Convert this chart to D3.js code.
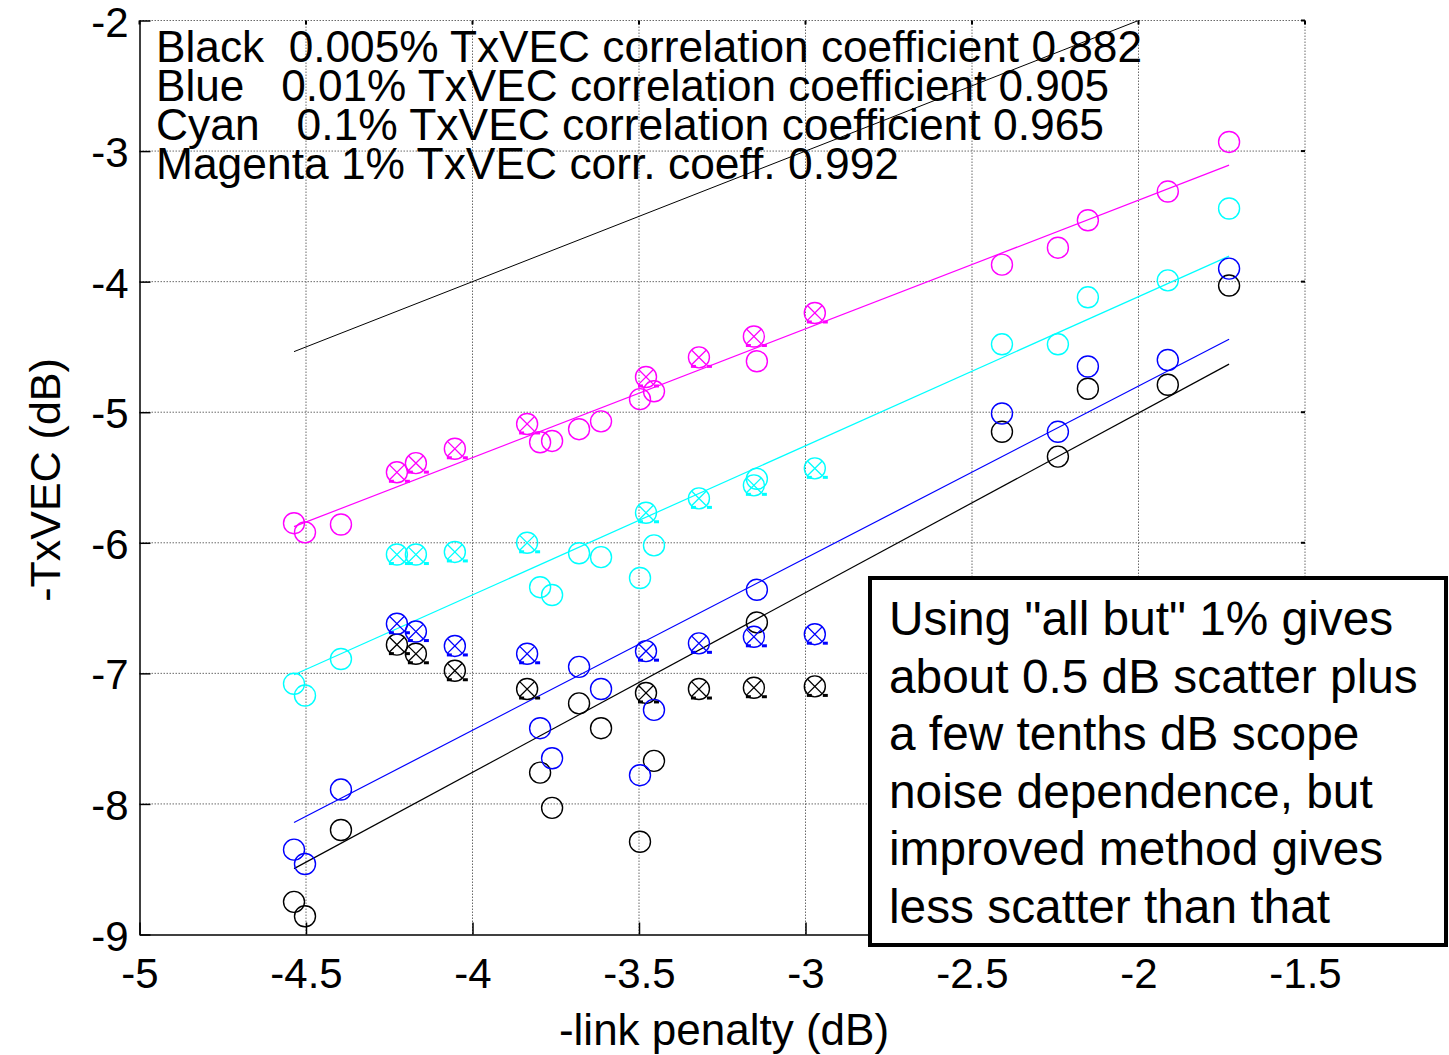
<!DOCTYPE html>
<html>
<head>
<meta charset="utf-8">
<script src="https://cdn.jsdelivr.net/npm/d3@7"></script>
<style>
  body { margin: 0; background: white; }
  text { font-family: 'Liberation Sans', Arial, sans-serif; fill: black; }
</style>
</head>
<body>
<script>
const svgWidth = 1449;
const svgHeight = 1055;

// DATA (x = -link penalty dB, y = -TxVEC dB)
const xOpen = [-4.536, -4.503, -4.395, -3.797, -3.761, -3.680, -3.614, -3.497, -3.455, -3.146, -2.410, -2.242, -2.152, -1.912, -1.728];
const xCross = [-4.227, -4.170, -4.053, -3.836, -3.479, -3.320, -3.155, -2.972];

const blackOpen = [-8.75, -8.86, -8.20, -7.76, -8.03, -7.23, -7.42, -8.29, -7.67, -6.61, -5.15, -5.34, -4.82, -4.79, -4.03];
const blackCross = [-6.78, -6.85, -6.98, -7.12, -7.15, -7.12, -7.11, -7.10];
const blueOpen = [-8.35, -8.46, -7.89, -7.42, -7.65, -6.95, -7.12, -7.78, -7.28, -6.36, -5.01, -5.15, -4.65, -4.60, -3.90];
const blueCross = [-6.62, -6.68, -6.79, -6.85, -6.83, -6.77, -6.72, -6.70];
const cyanOpen = [-7.08, -7.17, -6.89, -6.34, -6.40, -6.08, -6.11, -6.27, -6.02, -5.51, -4.48, -4.48, -4.12, -3.99, -3.44];
const cyanCross = [-6.09, -6.09, -6.07, -6.00, -5.77, -5.66, -5.56, -5.43];
const magentaOpen = [-5.85, -5.92, -5.86, -5.23, -5.22, -5.13, -5.07, -4.90, -4.84, -4.61, -3.87, -3.74, -3.53, -3.31, -2.93];
const magentaCross = [-5.46, -5.39, -5.28, -5.09, -4.73, -4.58, -4.42, -4.24];

const seriesColors = ['#000000', '#0000ff', '#00ffff', '#ff00ff'];
const openValues = [blackOpen, blueOpen, cyanOpen, magentaOpen];
const crossValues = [blackCross, blueCross, cyanCross, magentaCross];

// straight-line fits, y = slope * x + intercept
const fitSlopes = [1.376, 1.318, 1.142, 0.986];
const fitIntercepts = [-2.254, -2.164, -1.831, -1.404];

const legendLines = [
  'Black  0.005% TxVEC correlation coefficient 0.882',
  'Blue   0.01% TxVEC correlation coefficient 0.905',
  'Cyan   0.1% TxVEC correlation coefficient 0.965',
  'Magenta 1% TxVEC corr. coeff. 0.992'
];
const legendWidths = [986, 953, 948, 743];

const noteLines = [
  'Using "all but" 1% gives',
  'about 0.5 dB scatter plus',
  'a few tenths dB scope',
  'noise dependence, but',
  'improved method gives',
  'less scatter than that'
];

const xTicks = [-5, -4.5, -4, -3.5, -3, -2.5, -2, -1.5];
const yTicks = [-9, -8, -7, -6, -5, -4, -3, -2];

// SVG
const svg = d3
  .select('body')
  .append('svg')
  .attr('width', svgWidth)
  .attr('height', svgHeight)
  .style('display', 'block')
  .style('background-color', 'white');

const xScale = d3.scaleLinear().domain([-5, -1.5]).range([139.5, 1305]);
const yScale = d3.scaleLinear().domain([-9, -2]).range([934.5, 20.5]);
const [x0, x1] = xScale.range();
const [y0, y1] = yScale.range();

svg
  .append('clipPath')
  .attr('id', 'plot-clip')
  .append('rect')
  .attr('x', x0)
  .attr('y', y1)
  .attr('width', x1 - x0)
  .attr('height', y0 - y1);

// GRID
const grid = svg.append('g').attr('class', 'grid');
grid
  .selectAll('.vgrid')
  .data(xTicks.slice(1))
  .enter()
  .append('line')
  .attr('x1', d => xScale(d))
  .attr('x2', d => xScale(d))
  .attr('y1', y1)
  .attr('y2', y0)
  .attr('stroke', '#6a6a6a')
  .attr('stroke-width', 1)
  .attr('stroke-dasharray', '1.5,1.5');

grid
  .selectAll('.hgrid')
  .data(yTicks.slice(1))
  .enter()
  .append('line')
  .attr('x1', x0)
  .attr('x2', x1)
  .attr('y1', d => yScale(d))
  .attr('y2', d => yScale(d))
  .attr('stroke', '#6a6a6a')
  .attr('stroke-width', 1)
  .attr('stroke-dasharray', '1.5,1.5');

// X-AXIS
const xAxis = d3
  .axisBottom(xScale)
  .tickValues(xTicks)
  .tickFormat(d => String(d))
  .tickSizeInner(-12)
  .tickSizeOuter(0)
  .tickPadding(24);

const gx = svg
  .append('g')
  .attr('transform', `translate(0, ${y0})`)
  .call(xAxis);
gx.select('.domain').attr('stroke', 'black').attr('stroke-width', 1.5);
gx.selectAll('.tick line').attr('stroke', 'black').attr('stroke-width', 1.5);
gx.selectAll('.tick text').style('font-size', '42px').attr('font-family', null);

// Y-AXIS
const yAxis = d3
  .axisLeft(yScale)
  .tickValues(yTicks)
  .tickFormat(d => String(d))
  .tickSizeInner(-11)
  .tickSizeOuter(0)
  .tickPadding(11);

const gy = svg
  .append('g')
  .attr('transform', `translate(${x0}, 0)`)
  .call(yAxis);
gy.select('.domain').attr('stroke', 'black').attr('stroke-width', 1.5);
gy.selectAll('.tick line').attr('stroke', 'black').attr('stroke-width', 1.5);
gy.selectAll('.tick text')
  .style('font-size', '42px')
  .attr('font-family', null)
  .attr('dy', '0.37em');

// small ticks on top and right edges
svg
  .selectAll('.top-tick')
  .data(xTicks)
  .enter()
  .append('line')
  .attr('x1', d => xScale(d))
  .attr('x2', d => xScale(d))
  .attr('y1', y1)
  .attr('y2', y1 + 4)
  .attr('stroke', 'black')
  .attr('stroke-width', 2);

svg
  .selectAll('.right-tick')
  .data(yTicks)
  .enter()
  .append('line')
  .attr('x1', x1)
  .attr('x2', x1 - 4)
  .attr('y1', d => yScale(d))
  .attr('y2', d => yScale(d))
  .attr('stroke', 'black')
  .attr('stroke-width', 2);

// AXIS LABELS
svg
  .append('text')
  .attr('x', 724)
  .attr('y', 1045)
  .attr('text-anchor', 'middle')
  .style('font-size', '44px')
  .text('-link penalty (dB)');

svg
  .append('text')
  .attr('transform', 'translate(60, 480) rotate(-90)')
  .attr('text-anchor', 'middle')
  .style('font-size', '43px')
  .text('-TxVEC (dB)');

// FIT LINES
const plot = svg.append('g').attr('clip-path', 'url(#plot-clip)');
const xExtent = d3.extent(xOpen.concat(xCross));

// y = x reference line
plot
  .append('line')
  .attr('x1', xScale(xExtent[0]))
  .attr('y1', yScale(xExtent[0]))
  .attr('x2', xScale(xExtent[1]))
  .attr('y2', yScale(xExtent[1]))
  .attr('stroke', 'black')
  .attr('stroke-width', 1);

seriesColors.forEach((color, i) => {
  plot
    .append('line')
    .attr('x1', xScale(xExtent[0]))
    .attr('y1', yScale(fitSlopes[i] * xExtent[0] + fitIntercepts[i]))
    .attr('x2', xScale(xExtent[1]))
    .attr('y2', yScale(fitSlopes[i] * xExtent[1] + fitIntercepts[i]))
    .attr('stroke', color)
    .attr('stroke-width', 1.2);
});

// MARKERS
const r = 10.5;
const k = r * Math.SQRT1_2;

seriesColors.forEach((color, i) => {
  const g = plot.append('g');

  g.selectAll('.open')
    .data(openValues[i])
    .enter()
    .append('circle')
    .attr('cx', (d, j) => xScale(xOpen[j]))
    .attr('cy', d => yScale(d))
    .attr('r', r)
    .attr('fill', 'none')
    .attr('stroke', color)
    .attr('stroke-width', 1.4);

  const cross = g
    .selectAll('.cross')
    .data(crossValues[i])
    .enter()
    .append('g')
    .attr('transform', (d, j) => `translate(${xScale(xCross[j])}, ${yScale(d)})`);

  cross
    .append('circle')
    .attr('r', r)
    .attr('fill', 'none')
    .attr('stroke', color)
    .attr('stroke-width', 1.4);

  cross
    .append('path')
    .attr('d', `M${-k},${-k}L${k},${k}M${-k},${k}L${k},${-k}`)
    .attr('stroke', color)
    .attr('stroke-width', 1.3);

  cross
    .selectAll('rect')
    .data([-8, 8])
    .enter()
    .append('rect')
    .attr('x', d => d)
    .attr('y', 7.5)
    .attr('width', 5)
    .attr('height', 3)
    .attr('fill', color);
});

// LEGEND TEXT
svg
  .selectAll('.legend')
  .data(legendLines)
  .enter()
  .append('text')
  .attr('x', 156)
  .attr('y', (d, i) => 62 + i * 39)
  .attr('textLength', (d, i) => legendWidths[i])
  .attr('lengthAdjust', 'spacingAndGlyphs')
  .style('font-size', '44px')
  .style('white-space', 'pre')
  .text(d => d);

// NOTE BOX
svg
  .append('rect')
  .attr('x', 870)
  .attr('y', 578)
  .attr('width', 576)
  .attr('height', 367)
  .attr('fill', 'white')
  .attr('stroke', 'black')
  .attr('stroke-width', 4);

svg
  .selectAll('.note')
  .data(noteLines)
  .enter()
  .append('text')
  .attr('x', 889)
  .attr('y', (d, i) => 635 + i * 57.6)
  .style('font-size', '47.8px')
  .text(d => d);
</script>
</body>
</html>
